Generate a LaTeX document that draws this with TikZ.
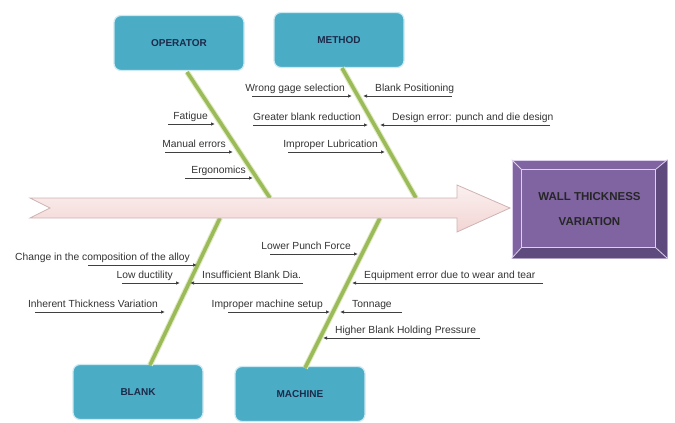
\documentclass[tikz,border=0pt]{standalone}
\usepackage{fontspec}
\setmainfont{Liberation Sans}
\usetikzlibrary{calc,arrows.meta,positioning}

\definecolor{catfill}{HTML}{4BACC6}
\definecolor{catedge}{HTML}{CDE9F2}
\definecolor{cattext}{HTML}{1C2B4A}
\definecolor{bonegreen}{HTML}{9BBB59}
\definecolor{bonepale}{HTML}{E2ECC6}
\definecolor{spinefill}{HTML}{F2D5D3}
\definecolor{spineedge}{HTML}{CFB3B3}
\definecolor{effectfill}{HTML}{8064A2}
\definecolor{effectlight}{HTML}{DCD0EC}
\definecolor{effectdark}{HTML}{5E4A7C}

\begin{document}
\begin{tikzpicture}[x=1pt, y=-1pt, >=Stealth,
		category/.style={draw=catedge, line width=1.2pt, fill=catfill, rounded corners=7pt,
			minimum width=130pt, minimum height=55pt, text=cattext,
			font=\fontsize{10}{12}\selectfont\bfseries},
		bone/.style={draw=bonepale, double=bonegreen, double distance=3.6pt, line width=1.1pt},
		twig/.style={draw=black!75, line width=1pt, -{Latex[length=4pt,width=3.5pt]}},
		cause/.style={inner sep=0pt, text=black!80, font=\fontsize{10.3}{12}\selectfont}]
		\useasboundingbox (0,0) rectangle (675,423);

		% Category boxes
		\node[category] (operator) at (179,43) {OPERATOR};
		\node[category] (method) at (339,40) {METHOD};
		\node[category] (blank) at (138,392) {BLANK};
		\node[category] (machine) at (300,394) {MACHINE};

		% Bones
		\coordinate (opTop) at (187,72);   \coordinate (opEnd) at (270,198);
		\coordinate (meTop) at (342,68);   \coordinate (meEnd) at (416,198);
		\coordinate (blTop) at (220,218);  \coordinate (blEnd) at (150,365);
		\coordinate (maTop) at (380,218);  \coordinate (maEnd) at (305,368);
		\foreach \a/\b in {opTop/opEnd, meTop/meEnd, blTop/blEnd, maTop/maEnd}
			\draw[bone] (\a) -- (\b);

		% Spine
		\draw[spineedge, top color=spinefill!35, bottom color=spinefill, line width=0.8pt]
			(30,198) -- (457,198) -- (457,185) -- (510,208) -- (457,232) -- (457,218)
			-- (30,218) -- (50,208) -- cycle;

		% Effect box
		\node[fill=effectfill, draw=effectlight, line width=0.6pt, minimum width=155pt,
			minimum height=98pt] (effect) at (589.5,209) {};
		\coordinate (inNW) at ($(effect.north west)+(10,10)$);
		\coordinate (inSE) at ($(effect.south east)+(-12,-11)$);
		\coordinate (inNE) at (inSE |- inNW);
		\coordinate (inSW) at (inNW |- inSE);
		\fill[effectdark] (effect.south west) -- (inSW) -- (inSE) -- (inNE)
			-- (effect.north east) -- (effect.south east) -- cycle;
		\draw[effectlight, line width=1.4pt] (inNW) rectangle (inSE);
		\draw[effectlight, line width=0.8pt] (effect.north west) -- (inNW)
			(effect.north east) -- (inNE) (effect.south west) -- (inSW)
			(effect.south east) -- (inSE);
		\node[align=center, text=black!85, font=\fontsize{11.5}{25}\selectfont\bfseries]
			(effectlbl) at (effect.center) {WALL THICKNESS\\VARIATION};

		% Causes pointing right
		\foreach \xa/\xb/\y/\txt in {168/215/124/Fatigue, 165/233/152/Manual errors,
				185/253/178/Ergonomics, 252/352/96/Wrong gage selection,
				253/368/125/Greater blank reduction, 288/385/152/Improper Lubrication,
				88/197/265/Change in the composition of the alloy, 122/180/283/Low ductility,
				35/165/312/Inherent Thickness Variation, 270/358/254/Lower Punch Force,
				228/330/312/Improper machine setup} {
			\coordinate (s\xb\y) at (\xa,\y);
			\coordinate (e\xb\y) at (\xb,\y);
			\draw[twig] (s\xb\y) -- (e\xb\y);
			\node[cause, anchor=base east] (t\xb\y) at ($(e\xb\y)+(-7,-5)$) {\txt};
		}

		% Causes pointing left
		\foreach \xa/\xb/\y/\txt in {363/452/96/Blank Positioning,
				380/550/125/Design error: punch and die design, 190/303/283/Insufficient Blank Dia.,
				352/543/283/Equipment error due to wear and tear, 340/402/312/Tonnage,
				323/480/338/Higher Blank Holding Pressure} {
			\coordinate (s\xa\y) at (\xb,\y);
			\coordinate (e\xa\y) at (\xa,\y);
			\draw[twig] (s\xa\y) -- (e\xa\y);
			\node[cause, anchor=base west] (t\xa\y) at ($(e\xa\y)+(12,-5)$) {\txt};
		}
	\end{tikzpicture}
\end{document}
